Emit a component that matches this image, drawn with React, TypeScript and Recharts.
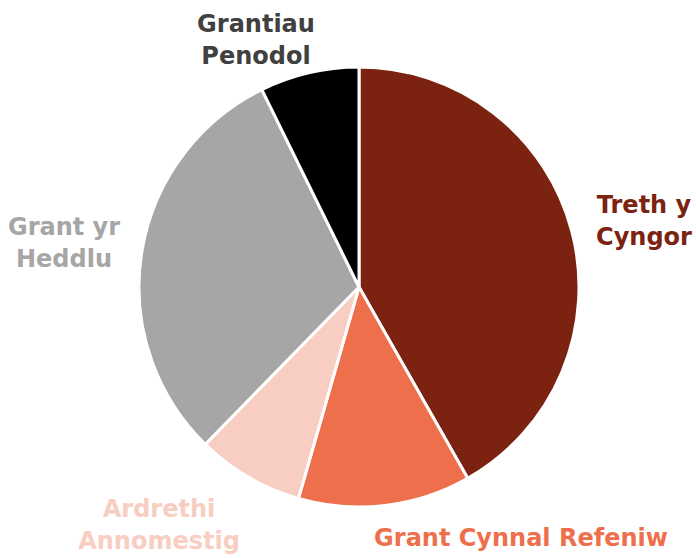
import { PieChart, Pie, Cell } from "recharts";

const SOURCES = ["Treth y\nCyngor", "Grant Cynnal Refeniw", "Ardrethi\nAnnomestig", "Grant yr\nHeddlu", "Grantiau\nPenodol"];
const SHARES = [41.9, 12.7, 7.9, 30.5, 7.3];
const FILLS = ["#7B2310", "#EE6F4B", "#F8CDC2", "#A6A6A6", "#000000"];
const LABEL_COLORS = ["#7B2310", "#EE6F4B", "#F8CDC2", "#A6A6A6", "#404040"];
// label anchor (centre of text, first baseline) relative to pie centre
const LABEL_OFFSETS = [
  [285, -74],
  [162, 259],
  [-200, 230],
  [-295, -52],
  [-103, -255],
];

const data = SOURCES.map((name, i) => ({ name, value: SHARES[i] }));

const FONT = "'DejaVu Sans', sans-serif";

function renderLabel(props: any) {
  const { cx, cy, index } = props;
  const [dx, dy] = LABEL_OFFSETS[index];
  const lines = SOURCES[index].split("\n");
  return (
    <text
      x={cx + dx}
      y={cy + dy}
      textAnchor="middle"
      fill={LABEL_COLORS[index]}
      fontFamily={FONT}
      fontWeight={700}
      fontSize={24}
    >
      {lines.map((l, k) => (
        <tspan key={k} x={cx + dx} dy={k === 0 ? 0 : 32}>
          {l}
        </tspan>
      ))}
    </text>
  );
}

export default function App() {
  return (
    <div style={{ position: "absolute", left: 0, top: 0, background: "#fff" }}>
      <PieChart width={696} height={558} margin={{ top: 0, right: 0, bottom: 0, left: 0 }}>
        <Pie
          data={data}
          dataKey="value"
          nameKey="name"
          cx={359}
          cy={287}
          outerRadius={220}
          startAngle={90}
          endAngle={-270}
          stroke="#ffffff"
          strokeWidth={3}
          label={renderLabel}
          labelLine={false}
          isAnimationActive={false}
        >
          {data.map((_, i) => (
            <Cell key={i} fill={FILLS[i]} />
          ))}
        </Pie>
      </PieChart>
    </div>
  );
}
